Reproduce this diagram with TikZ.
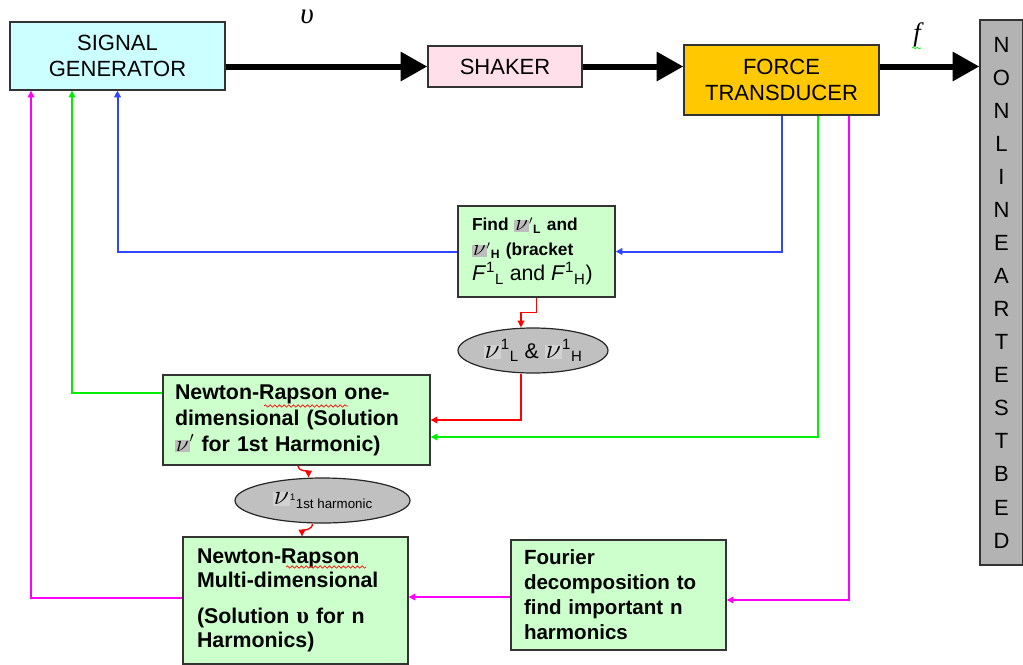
\documentclass[tikz,border=0pt]{standalone}
\usepackage{fontspec}
\setmainfont{Liberation Sans}
\newfontfamily\serifg{Liberation Serif}
\usetikzlibrary{arrows.meta,calc,shapes.geometric,decorations.pathmorphing}
\definecolor{sgfill}{HTML}{CCFFFF}
\definecolor{shfill}{HTML}{FFE0EA}
\definecolor{ftfill}{HTML}{FFC800}
\definecolor{gfill}{HTML}{CCFFCC}
\definecolor{nlfill}{HTML}{B3B3B3}
\definecolor{elfill}{HTML}{C0C0C0}
\definecolor{hl}{HTML}{BDBDBD}
\definecolor{hlb}{HTML}{D2D2D2}
\definecolor{mgnt}{HTML}{FF00FF}
\definecolor{grn}{HTML}{00EE00}
\definecolor{blu}{HTML}{2F45FF}
\newcommand\hnu{{\setlength{\fboxsep}{0.8pt}\colorbox{hl}{\fontsize{19}{19}\selectfont$\nu$}}}
\newcommand\bnu{{\setlength{\fboxsep}{0.8pt}\colorbox{hlb}{\fontsize{21}{21}\selectfont$\nu$}}}
\tikzset{
  box/.style={draw=black!80, line width=1pt, inner sep=0pt, align=center},
  gbox/.style={box, fill=gfill, align=left},
  ell/.style={ellipse, draw=black!85, line width=0.9pt, fill=elfill, inner sep=0pt},
  big/.style={line width=4.5pt, -{Triangle[length=20pt,width=21pt]}},
  conn/.style={line width=1pt, -{Triangle[length=5pt,width=5pt]}},
  capfont/.style={font=\fontsize{16.5}{19.5}\selectfont},
  spell/.style={red, line width=0.5pt, decorate, decoration={snake, amplitude=0.9pt, segment length=3.5pt}},
}
\begin{document}
\begin{tikzpicture}[x=0.75pt,y=-0.75pt]
\useasboundingbox (0,0) rectangle (1023,664);

% top row
\node[box, capfont, fill=sgfill, minimum width=161.25pt, minimum height=51pt] (sg) at (117.5,56) {SIGNAL\\GENERATOR};
\node[box, capfont, fill=shfill, minimum width=115.5pt, minimum height=30.75pt] (sh) at (505,66.5) {SHAKER};
\node[box, capfont, fill=ftfill, minimum width=146.25pt, minimum height=52.5pt] (ft) at (781.5,80) {FORCE\\TRANSDUCER};
\node[box, fill=nlfill, minimum width=32.25pt, minimum height=408.75pt,
      font=\fontsize{16.5}{24.8}\selectfont] (nl) at (1001.5,292.5)
  {N\\O\\N\\L\\I\\N\\E\\A\\R\\T\\E\\S\\T\\B\\E\\D};

\node[font=\fontsize{22}{22}\selectfont] (ups) at (307,17) {\serifg\itshape υ};
\node[font=\fontsize{20}{20}\selectfont] (flab) at (917,35) {\serifg\itshape f};
\draw[grn, line width=0.5pt, decorate, decoration={snake, amplitude=0.7pt, segment length=3pt}] (912,48) -- (921,48);

\draw[big] (sg.east |- sh.west) -- (sh.west);
\draw[big] (sh.east) -- (sh.east -| ft.west);
\draw[big] (ft.east |- sh.east) -- (nl.west |- sh.east);

% find box
\node[gbox, text width=96.75pt, inner xsep=10.5pt, minimum height=68.25pt,
      font=\fontsize{13}{18.75}\selectfont\bfseries] (find) at (536.5,251.5)
  {Find \hnu$'$\textsubscript{L} and\\
   \hnu$'$\textsubscript{H} (bracket\\
   {\fontsize{16}{18.75}\selectfont\mdseries\textit{F}\textsuperscript{1}\textsubscript{L} and \textit{F}\textsuperscript{1}\textsubscript{H})}};

\node[ell, minimum width=112.5pt, minimum height=33.75pt, font=\fontsize{16}{16}\selectfont] (e1) at (533,350.5)
  {\bnu\textsuperscript{1}\textsubscript{L} \& \bnu\textsuperscript{1}\textsubscript{H}};

\node[gbox, text width=182.25pt, inner xsep=9pt, minimum height=67.5pt,
      font=\fontsize{16}{19.5}\selectfont\bfseries] (nr1) at (296.5,420)
  {Newton-Rapson one-\\dimensional (Solution\\\hnu$'$ for 1st Harmonic)};

\node[ell, minimum width=131.25pt, minimum height=33.75pt] (e2) at (322.5,500.5)
  {\bnu\textsuperscript{1}\raisebox{-3pt}{\fontsize{10}{10}\selectfont 1st harmonic}};

\node[gbox, text width=147.75pt, inner xsep=10.5pt, minimum height=95.25pt,
      font=\fontsize{16}{18}\selectfont\bfseries] (nrm) at (295.5,600.5)
  {Newton-Rapson\\Multi-dimensional\\[9pt](Solution {\serifg\fontsize{18}{18}\selectfont υ} for n\\Harmonics)};

\node[gbox, text width=141.75pt, inner xsep=9.75pt, minimum height=82.5pt,
      font=\fontsize{15.4}{18.75}\selectfont\bfseries] (four) at (618.5,595)
  {Fourier\\decomposition to\\find important n\\harmonics};

% spell-check marks
\draw[spell] (264,406) -- (348,406);
\draw[spell] (286,567) -- (366,567);

% blue
\draw[conn, color=blu, line width=1.5pt] (ft.south) |- (find.east);
\draw[conn, color=blu, line width=1.5pt] (find.west) -| (sg.south);
% green
\draw[conn, grn] ($(ft.south)+(36.5,0)$) |- ($(nr1.east)+(0,17)$);
\draw[conn, grn] ($(nr1.west)+(0,-27)$) -| ($(sg.south)+(-45.5,0)$);
% magenta
\coordinate (fw) at ($(four.west)+(0,2)$);
\draw[conn, mgnt] ($(ft.south)+(67.5,0)$) |- ($(four.east)+(0,5)$);
\draw[conn, mgnt] (fw) -- (fw -| nrm.east);
\draw[conn, mgnt] ($(nrm.west)+(0,-2.5)$) -| ($(sg.south)+(-86.5,0)$);
% red
\draw[conn, red] (find.south) -- ++(0,15) -| ($(e1.north)+(-12,0)$);
\draw[conn, red] ($(e1.south)+(-12,0)$) |- (nr1.east);
\draw[conn, red] ($(nr1.south)+(1.5,0)$) .. controls +(1,7) and +(0,-7) .. ($(e2.north)+(-14,0)$);
\draw[conn, red] ($(e2.south)+(-10,0)$) .. controls +(0,7) and +(0,-6) .. ($(nrm.north)+(6.5,0)$);
\end{tikzpicture}
\end{document}
